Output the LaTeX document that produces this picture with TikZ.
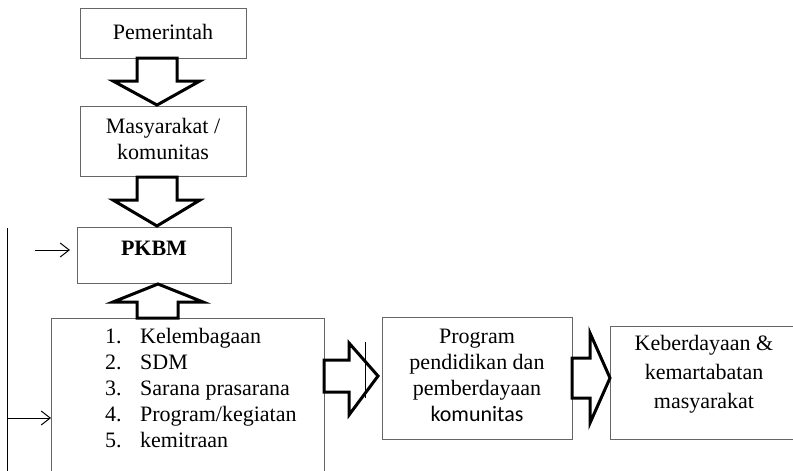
\documentclass[tikz,border=0pt]{standalone}
\usepackage{fontspec}
\setmainfont{Liberation Serif}
\newfontfamily\calib{Carlito}
\usetikzlibrary{arrows.meta}
\tikzset{
  box/.style={draw=black!60, line width=1pt, fill=white, inner sep=0pt},
  lbl/.style={inner sep=0pt, align=center, font=\fontsize{22}{26}\selectfont},
  blockarrow/.style={draw=black, line width=3pt, fill=white, line join=miter},
  thin/.style={draw=black, line width=1pt},
  tip/.style={-{Straight Barb[length=9pt,width=14pt,line width=1pt]}}
}
\begin{document}
\begin{tikzpicture}[x=1pt,y=-1pt]
\useasboundingbox (0,0) rectangle (793,471);
\clip (0,0) rectangle (793,471);
\fill[white] (0,0) rectangle (793,471);

% boxes
\node[box, minimum width=166pt, minimum height=50pt] (pem) at (163,33) {};
\node[lbl] (pemt) at (163,32) {Pemerintah};
\node[box, minimum width=166pt, minimum height=70pt] (mas) at (163,141) {};
\node[lbl] (mast) at (163,139) {Masyarakat /\\komunitas};
\node[box, minimum width=154pt, minimum height=56pt] (pkbm) at (154,255) {};
\node[lbl, font=\fontsize{22}{26}\selectfont\bfseries] (pkbmt) at (154,248) {PKBM};
\node[box, minimum width=273pt, minimum height=170pt, anchor=north west] (list) at (51,318) {};
\node[lbl, anchor=base west] (l1) at (105,343) {\makebox[35pt][l]{1.}Kelembagaan};
\node[lbl, anchor=base west] (l2) at (105,369) {\makebox[35pt][l]{2.}SDM};
\node[lbl, anchor=base west] (l3) at (105,395) {\makebox[35pt][l]{3.}Sarana prasarana};
\node[lbl, anchor=base west] (l4) at (105,421) {\makebox[35pt][l]{4.}Program/kegiatan};
\node[lbl, anchor=base west] (l5) at (105,447) {\makebox[35pt][l]{5.}kemitraan};
\node[box, minimum width=190pt, minimum height=122pt] (prog) at (477,378) {};
\node[lbl] (progt) at (477,375) {Program\\pendidikan dan\\pemberdayaan\\{\calib komunitas}};
\node[box, minimum width=192pt, minimum height=113pt, anchor=north west] (keb) at (610,326) {};
\node[lbl, font=\fontsize{22}{29}\selectfont] (kebt) at (704,374) {Keberdayaan \&\\kemartabatan\\masyarakat};

% block arrows
\draw[blockarrow] (137,58) -- (177,58) -- (177,81) -- (200,81) -- (157,105) -- (113,81) -- (137,81) -- cycle;
\draw[blockarrow] (137,177) -- (177,177) -- (177,200) -- (200,200) -- (157,226) -- (113,200) -- (137,200) -- cycle;
\draw[blockarrow] (137,318) -- (178,318) -- (178,302) -- (203,302) -- (158,284) -- (113,302) -- (137,302) -- cycle;
\draw[blockarrow] (324,360) -- (349,360) -- (349,343) -- (378,376) -- (349,415) -- (349,392) -- (324,392) -- cycle;
\draw[blockarrow] (572,358) -- (590,358) -- (590,333) -- (610,378) -- (590,423) -- (590,398) -- (572,398) -- cycle;
\coordinate (st1) at (365,342);
\coordinate (st2) at (365,398);
\draw[line width=0.8pt] (st1) -- (st2);

% feedback line
\coordinate (ltop) at (7,228);
\coordinate (lbot) at (7,480);
\coordinate (lmid) at (7,418);
\coordinate (pin) at (35,250);
\coordinate (pend) at (70,250);
\draw[thin] (ltop) -- (lbot);
\draw[thin, tip] (pin) -- (pend);
\draw[thin, tip] (lmid) -- (list.west |- lmid);
\end{tikzpicture}
\end{document}
